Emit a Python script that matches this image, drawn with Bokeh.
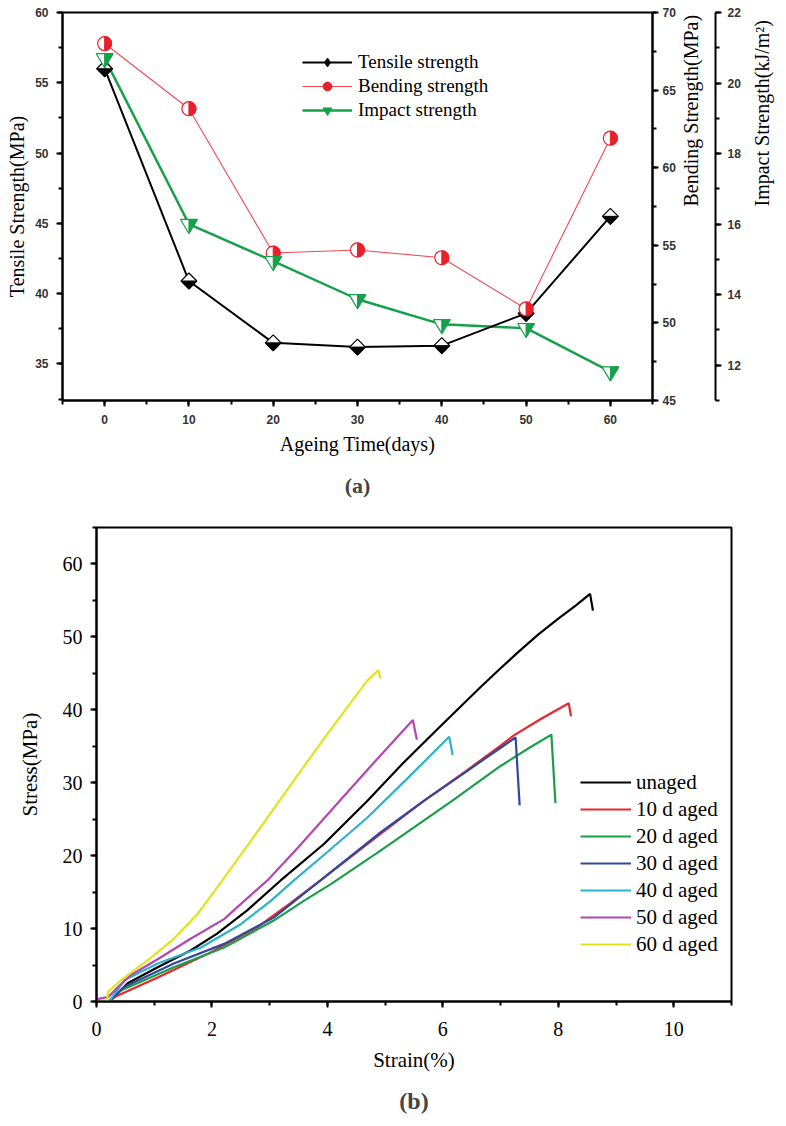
import math
from bokeh.plotting import figure
from bokeh.models import (Range1d, LinearAxis, Legend, LegendItem, Title,
                          FixedTicker, SingleIntervalTicker)
from bokeh.embed import file_html
from bokeh.resources import INLINE

# ---------------- data: panel (a) ----------------
ageing_days = [0, 10, 20, 30, 40, 50, 60]
tensile_mpa = [56.0, 40.9, 36.5, 36.2, 36.3, 38.6, 45.5]
bending_mpa = [68.0, 63.8, 54.5, 54.7, 54.2, 50.9, 61.9]
impact_kj = [20.7, 16.0, 14.95, 13.87, 13.16, 13.05, 11.82]

# ---------------- data: panel (b) ----------------
unaged_strain = [0.0, 0.22, 0.3, 0.54, 1.06, 1.63, 2.09, 2.61, 3.19, 3.94, 4.69, 5.3, 5.9, 6.65, 7.0, 7.29, 7.65, 8.0, 8.3, 8.55, 8.6]
unaged_stress = [0.0, 0.0, 0.6, 2.5, 4.7, 7.0, 9.3, 12.5, 16.6, 21.6, 27.5, 32.6, 37.3, 43.1, 45.7, 47.8, 50.3, 52.5, 54.3, 55.9, 53.6]
d10_strain = [0.0, 0.2, 0.36, 1.06, 1.92, 2.79, 3.36, 3.88, 4.92, 5.67, 6.4, 7.0, 7.23, 7.69, 8.18, 8.22]
d10_stress = [0.0, 0.0, 0.8, 3.3, 6.5, 10.2, 13.5, 16.6, 23.0, 27.5, 31.6, 35.1, 36.5, 38.7, 40.9, 39.1]
d20_strain = [0.0, 0.22, 0.42, 1.34, 2.21, 3.07, 3.59, 4.06, 4.92, 6.16, 7.0, 7.5, 7.88, 7.95]
d20_stress = [0.0, 0.0, 1.5, 4.7, 7.4, 11.1, 13.8, 16.1, 20.7, 27.5, 32.3, 34.8, 36.6, 27.2]
d30_strain = [0.0, 0.22, 0.48, 1.34, 2.21, 3.07, 3.88, 4.92, 5.67, 6.4, 7.0, 7.26, 7.33]
d30_stress = [0.0, 0.0, 2.0, 5.2, 7.9, 11.5, 16.6, 23.2, 27.5, 31.5, 34.8, 36.2, 26.9]
d40_strain = [0.0, 0.22, 0.48, 1.06, 1.81, 2.5, 3.02, 3.42, 4.0, 4.69, 5.4, 6.11, 6.17]
d40_stress = [0.0, 0.0, 2.9, 5.2, 7.4, 10.6, 13.8, 16.6, 20.5, 25.2, 30.7, 36.3, 33.8]
d50_strain = [0.0, 0.05, 0.2, 0.35, 0.59, 1.06, 1.63, 2.21, 2.56, 2.96, 3.5, 4.11, 4.8, 5.48, 5.55]
d50_stress = [0.0, 0.4, 0.6, 1.8, 3.6, 5.8, 8.6, 11.3, 13.8, 16.6, 21.2, 26.6, 32.7, 38.6, 35.9]
d60_strain = [0.0, 0.18, 0.2, 0.42, 0.88, 1.34, 1.75, 2.18, 2.96, 3.5, 4.0, 4.69, 4.88, 4.92]
d60_stress = [0.0, 0.0, 1.3, 2.9, 5.6, 8.6, 12.0, 16.6, 25.2, 31.2, 36.7, 44.0, 45.4, 44.3]
curve_labels = ["unaged", "10 d aged", "20 d aged", "30 d aged", "40 d aged", "50 d aged", "60 d aged"]

SERIF = "Liberation Serif"
SANS = "Liberation Sans"
TICK_GREY = "#333333"

BLACK = "#000000"
RED = "#e8202a"
RED_LINE = "#ee4a55"
GREEN = "#15a04a"

# ---------------- panel (a) ----------------
TOP_W, TOP_H = 786, 510
TOP_L, TOP_R, TOP_T, TOP_B = 62, 126, 12, 110
TOP_FW = TOP_W - TOP_L - TOP_R
TOP_FH = TOP_H - TOP_T - TOP_B
X_TOP = (-5, 65)
Y_TENS = (32.4, 60)
Y_BEND = (45, 70)
Y_IMP = (11, 22)

top = figure(width=TOP_W, height=TOP_H,
             x_range=Range1d(*X_TOP), y_range=Range1d(*Y_TENS),
             output_backend="svg", toolbar_location=None,
             min_border_left=TOP_L, min_border_right=TOP_R,
             min_border_top=TOP_T, min_border_bottom=TOP_B)
top.extra_y_ranges = {"bend": Range1d(*Y_BEND), "imp": Range1d(*Y_IMP)}
top.xgrid.visible = False
top.ygrid.visible = False
top.outline_line_color = "black"
top.outline_line_width = 2


def style_axis(ax, tick_font, tick_size, tick_bold, label_size, maj_out, min_out, lw,
               label_standoff, tick_standoff):
    ax.axis_line_width = lw
    ax.axis_line_color = "black"
    ax.major_tick_line_width = lw
    ax.minor_tick_line_width = lw
    ax.major_tick_in = 0
    ax.minor_tick_in = 0
    ax.major_tick_out = maj_out
    ax.minor_tick_out = min_out
    ax.major_label_text_font = tick_font
    ax.major_label_text_font_size = tick_size
    ax.major_label_text_font_style = "bold" if tick_bold else "normal"
    ax.major_label_standoff = tick_standoff
    ax.axis_label_text_font = SERIF
    ax.axis_label_text_font_style = "normal"
    ax.axis_label_text_font_size = label_size
    ax.axis_label_text_color = "black"
    ax.axis_label_standoff = label_standoff


top.xaxis.ticker = SingleIntervalTicker(interval=10, num_minor_ticks=2)
top.xaxis.axis_label = "Ageing Time(days)"
style_axis(top.xaxis[0], SANS, "12px", True, "20px", 6, 4, 2, 6, 8)
top.xaxis.major_label_text_color = TICK_GREY

top.yaxis.ticker = SingleIntervalTicker(interval=5, num_minor_ticks=2)
top.yaxis.axis_label = "Tensile Strength(MPa)"
style_axis(top.yaxis[0], SANS, "12px", True, "20px", 6, 4, 2, 4, 8)
top.yaxis.major_label_text_color = TICK_GREY

ax_bend = LinearAxis(y_range_name="bend", axis_label="Bending Strength(MPa)",
                     ticker=SingleIntervalTicker(interval=5, num_minor_ticks=2))
style_axis(ax_bend, SANS, "12px", True, "20px", 6, 4, 2, 12, 4)
ax_bend.major_label_text_color = TICK_GREY
top.add_layout(ax_bend, "right")

spacer = LinearAxis(y_range_name="bend", ticker=FixedTicker(ticks=[]),
                    axis_line_color=None, major_tick_line_color=None,
                    minor_tick_line_color=None, major_tick_in=0, major_tick_out=15,
                    minor_tick_in=0, minor_tick_out=0)
top.add_layout(spacer, "right")

ax_imp = LinearAxis(y_range_name="imp", axis_label="Impact Strength(kJ/m\u00b2)",
                    ticker=SingleIntervalTicker(interval=2, num_minor_ticks=2))
style_axis(ax_imp, SANS, "12px", True, "20px", 6, 4, 2, 18, 6)
ax_imp.major_label_text_color = TICK_GREY
top.add_layout(ax_imp, "right")

for ax in (ax_bend, ax_imp):
    if "axis_label_orientation" in ax.properties():
        ax.axis_label_orientation = math.pi / 2

kx = (X_TOP[1] - X_TOP[0]) / TOP_FW
k_tens = (Y_TENS[1] - Y_TENS[0]) / TOP_FH
k_bend = (Y_BEND[1] - Y_BEND[0]) / TOP_FH
k_imp = (Y_IMP[1] - Y_IMP[0]) / TOP_FH

# lines
l_bend = top.line(ageing_days, bending_mpa, y_range_name="bend", line_color=RED_LINE, line_width=1.1)
l_imp = top.line(ageing_days, impact_kj, y_range_name="imp", line_color=GREEN, line_width=2.4)
l_tens = top.line(ageing_days, tensile_mpa, line_color=BLACK, line_width=2)

# legend-marker renderers (hidden under the half-filled symbols)
m_tens = top.scatter(ageing_days, tensile_mpa, marker="diamond", size=8,
                     fill_color=BLACK, line_color=BLACK)
m_bend = top.scatter(ageing_days, bending_mpa, y_range_name="bend", marker="circle", size=8,
                     fill_color=RED, line_color=RED)
m_imp = top.scatter(ageing_days, impact_kj, y_range_name="imp", marker="inverted_triangle", size=8,
                    fill_color=GREEN, line_color=GREEN)

# half-filled diamonds (tensile)
HD = 8.0
dia_x = [[x - HD * kx, x, x + HD * kx, x] for x in ageing_days]
dia_y = [[y, y + HD * k_tens, y, y - HD * k_tens] for y in tensile_mpa]
low_x = [[x - HD * kx, x + HD * kx, x] for x in ageing_days]
low_y = [[y, y, y - HD * k_tens] for y in tensile_mpa]
top.patches(dia_x, dia_y, fill_color="white", line_color=BLACK, line_width=1.2)
top.patches(low_x, low_y, fill_color=BLACK, line_color=BLACK, line_width=1)

# half-filled circles (bending)
top.scatter(ageing_days, bending_mpa, y_range_name="bend", marker="circle", size=14,
            fill_color="white", line_color=RED, line_width=1.2)
top.wedge(ageing_days, bending_mpa, y_range_name="bend", radius=7, radius_units="screen",
          start_angle=-math.pi / 2, end_angle=math.pi / 2,
          fill_color=RED, line_color=RED, line_width=1)

# half-filled down triangles (impact)
TW, TH = 8.5, 14.0
t_up, t_dn = TH / 3, 2 * TH / 3
tri_x = [[x - TW * kx, x + TW * kx, x] for x in ageing_days]
tri_y = [[y + t_up * k_imp, y + t_up * k_imp, y - t_dn * k_imp] for y in impact_kj]
trr_x = [[x, x + TW * kx, x] for x in ageing_days]
trr_y = [[y + t_up * k_imp, y + t_up * k_imp, y - t_dn * k_imp] for y in impact_kj]
top.patches(tri_x, tri_y, y_range_name="imp", fill_color="white", line_color=GREEN, line_width=1.2)
top.patches(trr_x, trr_y, y_range_name="imp", fill_color=GREEN, line_color=GREEN, line_width=1)

leg_a = Legend(items=[
    LegendItem(label="Tensile strength", renderers=[l_tens, m_tens]),
    LegendItem(label="Bending strength", renderers=[l_bend, m_bend]),
    LegendItem(label="Impact strength", renderers=[l_imp, m_imp]),
], location=(240, 279), orientation="vertical",
    glyph_width=50, glyph_height=22, label_height=22, spacing=2,
    label_standoff=6, padding=0, margin=0,
    border_line_color=None, background_fill_alpha=0,
    label_text_font=SERIF, label_text_font_size="19px", label_text_color="black")
top.add_layout(leg_a)

title_a = Title(text="(a)", align="center", text_font=SERIF, text_font_size="22px",
                text_font_style="bold", standoff=26)
top.add_layout(title_a, "below")

# ---------------- panel (b) ----------------
BOT_W, BOT_H = 778, 616
BOT_L, BOT_R, BOT_T, BOT_B = 96, 47, 17, 125
bot = figure(width=BOT_W, height=BOT_H,
             x_range=Range1d(0, 11), y_range=Range1d(0, 65),
             output_backend="svg", toolbar_location=None,
             min_border_left=BOT_L, min_border_right=BOT_R,
             min_border_top=BOT_T, min_border_bottom=BOT_B)
bot.xgrid.visible = False
bot.ygrid.visible = False
bot.outline_line_color = "black"
bot.outline_line_width = 2
bot.xaxis.ticker = SingleIntervalTicker(interval=2, num_minor_ticks=2)
bot.yaxis.ticker = SingleIntervalTicker(interval=10, num_minor_ticks=2)
bot.xaxis.axis_label = "Strain(%)"
bot.yaxis.axis_label = "Stress(MPa)"
style_axis(bot.xaxis[0], SERIF, "20px", False, "21px", 6, 4, 2, 9, 14)
style_axis(bot.yaxis[0], SERIF, "20px", False, "21px", 6, 4, 2, 18, 8)
bot.xaxis.major_label_text_color = "black"
bot.yaxis.major_label_text_color = "black"

curves = [
    (unaged_strain, unaged_stress, "#000000"),
    (d10_strain, d10_stress, "#e8262d"),
    (d20_strain, d20_stress, "#1a9e4a"),
    (d30_strain, d30_stress, "#2e4a9e"),
    (d40_strain, d40_stress, "#2bb3c9"),
    (d50_strain, d50_stress, "#b446b4"),
    (d60_strain, d60_stress, "#e3e31c"),
]
items_b = []
for (xs, ys, col), lab in zip(curves, curve_labels):
    r = bot.line(xs, ys, line_color=col, line_width=2.2)
    items_b.append(LegendItem(label=lab, renderers=[r]))

leg_b = Legend(items=items_b, location=(484, 44), orientation="vertical",
               glyph_width=51, glyph_height=26, label_height=26, spacing=1,
               label_standoff=5, padding=0, margin=0,
               border_line_color=None, background_fill_alpha=0,
               label_text_font=SERIF, label_text_font_size="21px", label_text_color="black")
bot.add_layout(leg_b)

title_b = Title(text="(b)", align="center", text_font=SERIF, text_font_size="24px",
                text_font_style="bold", standoff=23)
bot.add_layout(title_b, "below")

open("out.html", "w").write(file_html([top, bot], INLINE))
